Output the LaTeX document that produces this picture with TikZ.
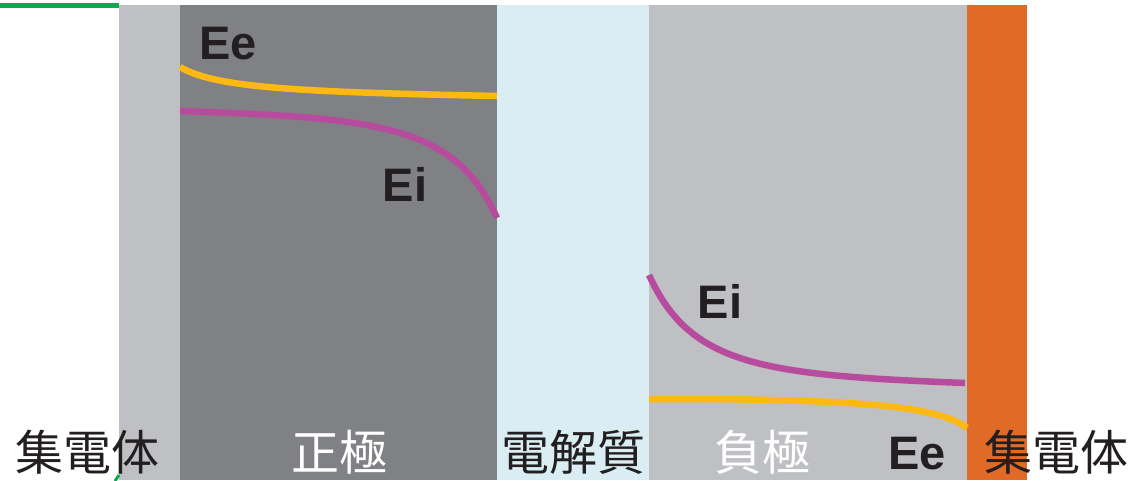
\documentclass[tikz,border=0pt]{standalone}
\usepackage{fontspec}
\setmainfont{Liberation Sans}
\newfontfamily\cjk{Noto Sans CJK JP}
\definecolor{lgray}{HTML}{BFC0C3}
\definecolor{dgray}{HTML}{808184}
\definecolor{lblue}{HTML}{DAEDF2}
\definecolor{orng}{HTML}{E06A26}
\definecolor{yel}{HTML}{FDB913}
\definecolor{mag}{HTML}{B74C9E}
\definecolor{ink}{HTML}{231F20}
\definecolor{grn}{HTML}{0BAA4E}
\begin{document}
\begin{tikzpicture}[x=1pt,y=-1pt,
  layer/.style={inner sep=0pt,outer sep=0pt},
  curve/.style={line width=6.5pt},
  lab/.style={font=\bfseries\fontsize{47}{47}\selectfont,text=ink,inner sep=0pt},
  jlab/.style={font=\cjk\fontsize{48}{48}\selectfont,inner sep=0pt}]
\useasboundingbox (0,0) rectangle (1139,480);
% layers
\fill[lgray] (119,5) rectangle (180,480);
\fill[dgray] (180,5) rectangle (497,480);
\fill[lblue] (497,5) rectangle (649,480);
\fill[lgray] (649,5) rectangle (967,480);
\fill[orng] (967,5) rectangle (1027,480);
% green line
\coordinate (g1) at (0,5.5);
\coordinate (g2) at (119,5.5);
\draw[grn,line width=5.5pt] (g1) -- (g2);
\coordinate (g3) at (115,481);
\coordinate (g4) at (119,475);
\draw[grn,line width=3pt] (g3) -- (g4);
% curves upper
\coordinate (eeA) at (180,67);
\coordinate (eeB) at (497,96);
\draw[yel,curve] (eeA) .. controls (215,88) and (300,92) .. (eeB);
\coordinate (eiA) at (180,111);
\coordinate (eiB) at (497,218);
\draw[mag,curve] (eiA) .. controls (380,118) and (455,125) .. (eiB);
% curves lower
\coordinate (eiC) at (649,275);
\coordinate (eiD) at (965,383);
\draw[mag,curve] (eiC) .. controls (690,365) and (760,375) .. (eiD);
\coordinate (eeC) at (649,399);
\coordinate (eeD) at (967,428);
\draw[yel,curve] (eeC) .. controls (820,399) and (935,402) .. (eeD);
% labels
\node[lab] (lEe1) at (228,44) {Ee};
\node[lab] (lEi1) at (405,184) {Ei};
\node[lab] (lEi2) at (720,301) {Ei};
\node[lab] (lEe2) at (917,454) {Ee};
\node[jlab,text=ink] (jl1) at (87,452) {集電体};
\node[jlab,text=white] (jl2) at (339,452) {正極};
\node[jlab,text=ink] (jl3) at (573,452) {電解質};
\node[jlab,text=white] (jl4) at (762,452) {負極};
\node[jlab,text=ink] (jl5) at (1056,452) {集電体};
\end{tikzpicture}
\end{document}
